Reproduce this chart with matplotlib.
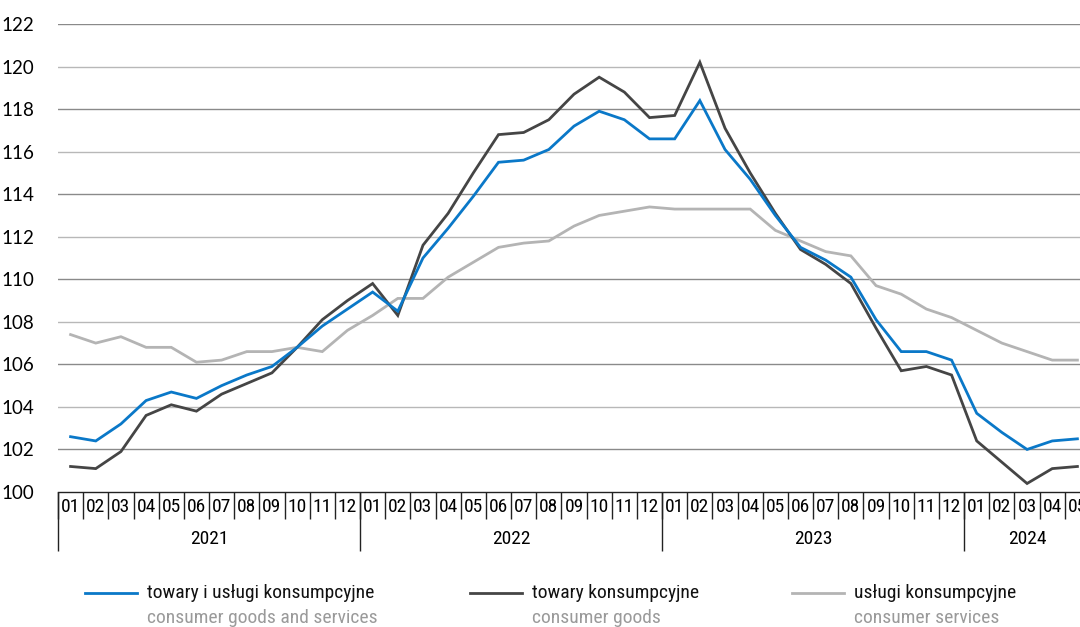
import matplotlib
matplotlib.use("Agg")
import matplotlib.pyplot as plt
from matplotlib.lines import Line2D
import matplotlib.transforms as mtransforms
from matplotlib import font_manager
import numpy as np

# ---- data ----
years = [2021, 2022, 2023, 2024]
months_per_year = [12, 12, 12, 5]
month_labels = [f"{m:02d}" for y, n in zip(years, months_per_year) for m in range(1, n + 1)]

goods_services = [102.6, 102.4, 103.2, 104.3, 104.7, 104.4, 105.0, 105.5, 105.9, 106.8, 107.8, 108.6,
                  109.4, 108.5, 111.0, 112.4, 113.9, 115.5, 115.6, 116.1, 117.2, 117.9, 117.5, 116.6,
                  116.6, 118.4, 116.1, 114.7, 113.0, 111.5, 110.9, 110.1, 108.1, 106.6, 106.6, 106.2,
                  103.7, 102.8, 102.0, 102.4, 102.5]
goods = [101.2, 101.1, 101.9, 103.6, 104.1, 103.8, 104.6, 105.1, 105.6, 106.8, 108.1, 109.0,
         109.8, 108.3, 111.6, 113.1, 115.0, 116.8, 116.9, 117.5, 118.7, 119.5, 118.8, 117.6,
         117.7, 120.2, 117.1, 115.0, 113.1, 111.4, 110.7, 109.8, 107.7, 105.7, 105.9, 105.5,
         102.4, 101.4, 100.4, 101.1, 101.2]
services = [107.4, 107.0, 107.3, 106.8, 106.8, 106.1, 106.2, 106.6, 106.6, 106.8, 106.6, 107.6,
            108.3, 109.1, 109.1, 110.1, 110.8, 111.5, 111.7, 111.8, 112.5, 113.0, 113.2, 113.4,
            113.3, 113.3, 113.3, 113.3, 112.3, 111.8, 111.3, 111.1, 109.7, 109.3, 108.6, 108.2,
            107.6, 107.0, 106.6, 106.2, 106.2]

series_pl = ["towary i usługi konsumpcyjne", "towary konsumpcyjne", "usługi konsumpcyjne"]
series_en = ["consumer goods and services", "consumer goods", "consumer services"]
colors = ["#0a78c8", "#454545", "#b4b4b4"]
yticks = list(range(100, 123, 2))

# pick a condensed font if one is installed
names = {f.name for f in font_manager.fontManager.ttflist}
narrow_name = None
for cand in ["Liberation Sans Narrow", "DejaVu Sans Condensed", "Roboto Condensed", "Open Sans Condensed"]:
    if cand in names:
        narrow_name = cand
        break
narrow = [narrow_name, 'DejaVu Sans'] if narrow_name else ['DejaVu Sans']
nstretch = 'normal' if narrow_name else 'condensed'
month_fs = 14 if narrow_name else 11
leg_fs = 14 if narrow_name else 12

# ---- figure ----
W, H = 1080, 627
fig = plt.figure(figsize=(W / 100, H / 100), dpi=100)
plt.rcParams['font.family'] = ['Lato', 'DejaVu Sans']

x0, x1 = 58, 1090
ytop, ybot = 24, 492
ax = fig.add_axes([x0 / W, (H - ybot) / H, (x1 - x0) / W, (ybot - ytop) / H])
n = len(month_labels)
xs = np.arange(n) + 0.5
ax.set_xlim(0, n)
ax.set_ylim(100, 122)

for i, v in enumerate(yticks[1:]):
    ax.axhline(v, color="#8a8a8a" if i % 2 == 0 else "#b8b8b8", lw=1.0, zorder=1)

for vals, c in zip([services, goods, goods_services], [colors[2], colors[1], colors[0]]):
    ax.plot(xs, vals, color=c, lw=2.0, zorder=3, solid_joinstyle="miter")

for s in ["top", "right", "left"]:
    ax.spines[s].set_visible(False)
ax.spines["bottom"].set_color("#222222")
ax.spines["bottom"].set_linewidth(1.0)

ax.set_yticks(yticks)
ax.set_yticklabels([str(v) for v in yticks], fontsize=13.5)
ax.tick_params(axis="y", length=0, pad=17)

ax.set_xticks(xs)
ax.set_xticklabels(month_labels, fontsize=month_fs, family=narrow, fontstretch=nstretch)
ax.tick_params(axis="x", which="major", length=0, pad=4)
ax.set_xticks(np.arange(0, n + 1), minor=True)
ax.tick_params(axis="x", which="minor", length=19.5, width=1.0, color="#222222", direction="out")

# year separators & labels
trans = mtransforms.blended_transform_factory(ax.transData, ax.transAxes)
starts = np.concatenate([[0], np.cumsum(months_per_year)[:-1]])
ax.vlines(starts, -59 / (ybot - ytop), 0, transform=trans, color="#222222", lw=1.0, clip_on=False)
for y, s, m in zip(years, starts, months_per_year):
    ax.text(s + m / 2, -47 / (ybot - ytop), str(y), transform=trans, ha="center", va="center",
            fontsize=month_fs, family=narrow, fontstretch=nstretch)

# legend (manual)
leg_x = [85, 470, 792]
for lx, c, pl, en in zip(leg_x, colors, series_pl, series_en):
    fig.add_artist(Line2D([lx / W, (lx + 52) / W], [(H - 593) / H] * 2, color=c, lw=2.0))
    fig.text((lx + 62) / W, (H - 593) / H, pl, fontsize=leg_fs, va="center", ha="left", color="#111111",
             family=narrow, fontstretch=nstretch)
    fig.text((lx + 62) / W, (H - 618) / H, en, fontsize=leg_fs, va="center", ha="left", color="#9a9a9a",
             family=narrow, fontstretch=nstretch)

fig.savefig("out.png", dpi=100)
